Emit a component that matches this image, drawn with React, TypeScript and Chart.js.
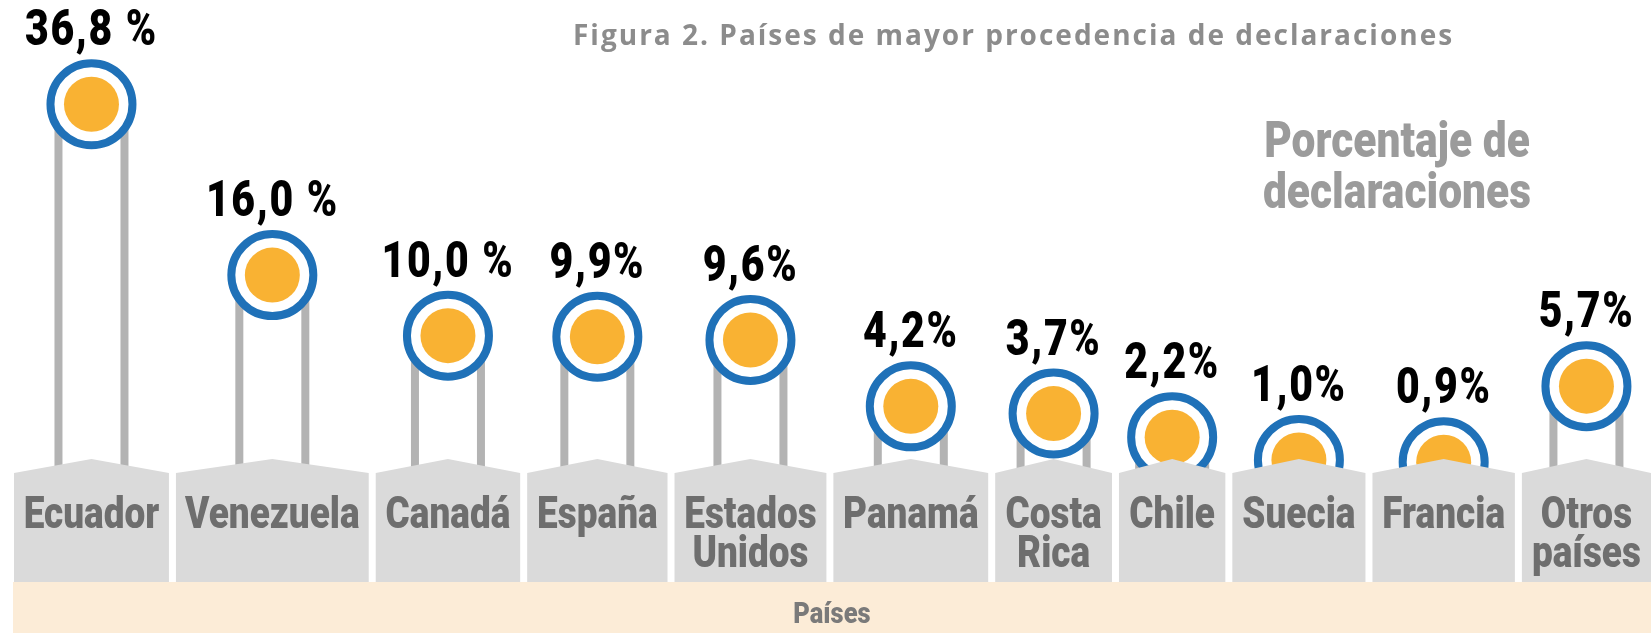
import React, { useEffect, useRef } from 'react';
import { Chart, registerables, CategoryScale, LinearScale } from 'chart.js';

// ---------------- data ----------------
const categories: (string | string[])[] = [
  'Ecuador',
  'Venezuela',
  'Canadá',
  'España',
  ['Estados', 'Unidos'],
  'Panamá',
  ['Costa', 'Rica'],
  'Chile',
  'Suecia',
  'Francia',
  ['Otros', 'países'],
];
const percentages: number[] = [36.8, 16.0, 10.0, 9.9, 9.6, 4.2, 3.7, 2.2, 1.0, 0.9, 5.7];
const titleText = 'Figura 2. Países de mayor procedencia de declaraciones';
const valueAxisTitle: string[] = ['Porcentaje de', 'declaraciones'];
const categoryAxisTitle = 'Países';

// ---------------- styles ----------------
const CAT_FONT = '900 44px Roboto, "Liberation Sans", sans-serif';
const CAT_SCALE_X = 0.84;
const VAL_FONT = '900 50px Roboto, "Liberation Sans", sans-serif';
const VAL_SCALE_X = 0.82;
const BAND_PAD = 24;
const BAND_GAP = 7;
const BOX_PEAK_Y = 459;
const BOX_SHOULDER_Y = 473;
const BOX_BOTTOM_Y = 582;
const STRIP_BOTTOM_Y = 633;

function formatPct(v: number): string {
  const s = v.toFixed(1).replace('.', ',');
  return v >= 10 ? s + ' %' : s + '%';
}

function drawText(
  ctx: CanvasRenderingContext2D,
  text: string,
  x: number,
  y: number,
  font: string,
  color: string,
  scaleX = 1,
  align: CanvasTextAlign = 'center',
  spacing = 0
) {
  ctx.save();
  ctx.font = font;
  ctx.fillStyle = color;
  ctx.textAlign = align;
  ctx.textBaseline = 'alphabetic';
  (ctx as any).letterSpacing = spacing + 'px';
  ctx.translate(x, y);
  ctx.scale(scaleX, 1);
  ctx.fillText(text, 0, 0);
  ctx.restore();
}

// Power (compressed) value scale
class PowerScale extends LinearScale {
  static id = 'power';
  static defaults = (LinearScale as any).defaults;
  exponent = 0.7;
  tf(v: number) {
    return Math.sign(v) * Math.pow(Math.abs(v), this.exponent);
  }
  getPixelForValue(value: number) {
    if (value === null || value === undefined || isNaN(value)) return NaN;
    const lo = this.tf((this as any).min);
    const hi = this.tf((this as any).max);
    return this.getPixelForDecimal((this.tf(value) - lo) / (hi - lo));
  }
  getValueForPixel(pixel: number) {
    const lo = this.tf((this as any).min);
    const hi = this.tf((this as any).max);
    const t = lo + this.getDecimalForPixel(pixel) * (hi - lo);
    return Math.sign(t) * Math.pow(Math.abs(t), 1 / this.exponent);
  }
}

// Category scale whose bands are sized by the width of their labels
class LabelBandScale extends CategoryScale {
  static id = 'labelband';
  static defaults = (CategoryScale as any).defaults;
  bands: { start: number; end: number; center: number }[] = [];
  bandKey = '';
  computeBands() {
    const self = this as any;
    const labels = self.getLabels() as (string | string[])[];
    const ctx: CanvasRenderingContext2D = self.ctx;
    ctx.save();
    ctx.font = CAT_FONT;
    const widths = labels.map((l) => {
      const lines = Array.isArray(l) ? l : [l];
      return Math.max(...lines.map((s) => ctx.measureText(s).width)) * CAT_SCALE_X + BAND_PAD;
    });
    ctx.restore();
    const avail = self.right - self.left - BAND_GAP * (labels.length - 1);
    const k = avail / widths.reduce((a, b) => a + b, 0);
    let x = self.left;
    this.bands = widths.map((w) => {
      const s = x;
      const e = x + w * k;
      x = e + BAND_GAP;
      return { start: s, end: e, center: (s + e) / 2 };
    });
    this.bandKey = self.left + ':' + self.right;
  }
  getBands() {
    const self = this as any;
    if (!this.bands.length || this.bandKey !== self.left + ':' + self.right) this.computeBands();
    return this.bands;
  }
  getPixelForValue(value: number) {
    const b = this.getBands()[Math.round(value)];
    return b ? b.center : NaN;
  }
}

Chart.register(...registerables, PowerScale as any, LabelBandScale as any);

const decorPlugin = {
  id: 'decor',
  beforeDraw(chart: any) {
    const ctx: CanvasRenderingContext2D = chart.ctx;
    const area = chart.chartArea;
    // title
    drawText(ctx, titleText, 573, 45, '700 28px "Open Sans", sans-serif', '#8C8C8C', 1, 'left', 2.0);
    // value axis title
    drawText(ctx, valueAxisTitle[0], 1397, 157, '900 50px Roboto, sans-serif', '#9B9B9B', 0.85);
    drawText(ctx, valueAxisTitle[1], 1397, 208, '900 50px Roboto, sans-serif', '#9B9B9B', 0.85);
    // category strip
    ctx.save();
    ctx.fillStyle = '#FCECD7';
    ctx.fillRect(area.left - 1, BOX_BOTTOM_Y, chart.width - area.left + 1, STRIP_BOTTOM_Y - BOX_BOTTOM_Y);
    ctx.restore();
    drawText(ctx, categoryAxisTitle, (area.left - 1 + chart.width) / 2, 623, '900 30px Roboto, sans-serif', '#7A7A7A', 0.85);
  },
  beforeDatasetsDraw(chart: any) {
    const ctx: CanvasRenderingContext2D = chart.ctx;
    const meta = chart.getDatasetMeta(1);
    ctx.save();
    ctx.strokeStyle = '#B3B3B3';
    ctx.lineWidth = 8;
    meta.data.forEach((pt: any) => {
      [-33, 33].forEach((dx) => {
        ctx.beginPath();
        ctx.moveTo(pt.x + dx, pt.y);
        ctx.lineTo(pt.x + dx, BOX_SHOULDER_Y + 4);
        ctx.stroke();
      });
    });
    ctx.restore();
  },
  afterDatasetsDraw(chart: any) {
    const ctx: CanvasRenderingContext2D = chart.ctx;
    const xs = chart.scales.x as LabelBandScale;
    const bands = xs.getBands();
    const labels = chart.data.labels as (string | string[])[];
    bands.forEach((b, i) => {
      ctx.save();
      ctx.fillStyle = '#DADADA';
      ctx.beginPath();
      ctx.moveTo(b.start, BOX_SHOULDER_Y);
      ctx.lineTo(b.center, BOX_PEAK_Y);
      ctx.lineTo(b.end, BOX_SHOULDER_Y);
      ctx.lineTo(b.end, BOX_BOTTOM_Y);
      ctx.lineTo(b.start, BOX_BOTTOM_Y);
      ctx.closePath();
      ctx.fill();
      ctx.restore();
      const l = labels[i];
      const lines = Array.isArray(l) ? l : [l];
      lines.forEach((s, j) => drawText(ctx, s, b.center, 528 + j * 39, CAT_FONT, '#6E6E6E', CAT_SCALE_X));
    });
    // value labels
    const meta = chart.getDatasetMeta(1);
    meta.data.forEach((pt: any, i: number) => {
      drawText(ctx, formatPct(chart.data.datasets[1].data[i]), pt.x, pt.y - 59, VAL_FONT, '#000000', VAL_SCALE_X, 'center', 2);
    });
  },
};

export default function App() {
  const ref = useRef<HTMLCanvasElement | null>(null);
  useEffect(() => {
    if (!ref.current) return;
    const chart = new Chart(ref.current, {
      type: 'line',
      data: {
        labels: categories as any,
        datasets: [
          {
            label: 'inner',
            data: percentages,
            showLine: false,
            pointRadius: 27.5,
            pointHoverRadius: 27.5,
            pointBackgroundColor: '#F9B233',
            pointBorderWidth: 0,
            order: 0,
            clip: false as any,
          },
          {
            label: 'ring',
            data: percentages,
            showLine: false,
            pointRadius: 41,
            pointHoverRadius: 41,
            pointBackgroundColor: '#FFFFFF',
            pointBorderColor: '#1F71B8',
            pointBorderWidth: 8,
            order: 1,
            clip: false as any,
          },
        ],
      },
      options: {
        responsive: false,
        animation: false,
        events: [],
        layout: { autoPadding: false, padding: { top: 81, bottom: 142, left: 14, right: 0 } },
        scales: {
          x: { type: 'labelband' as any, display: false },
          y: { type: 'power' as any, display: false, min: 0, max: 40 },
        },
        plugins: { legend: { display: false }, tooltip: { enabled: false }, title: { display: false } },
      },
      plugins: [decorPlugin as any],
    });
    return () => chart.destroy();
  }, []);
  return (
    <div style={{ position: 'fixed', left: 0, top: 0, width: 1651, height: 633, background: '#FFFFFF', overflow: 'hidden' }}>
      <canvas ref={ref} width={1651} height={633} style={{ display: 'block' }} />
    </div>
  );
}
